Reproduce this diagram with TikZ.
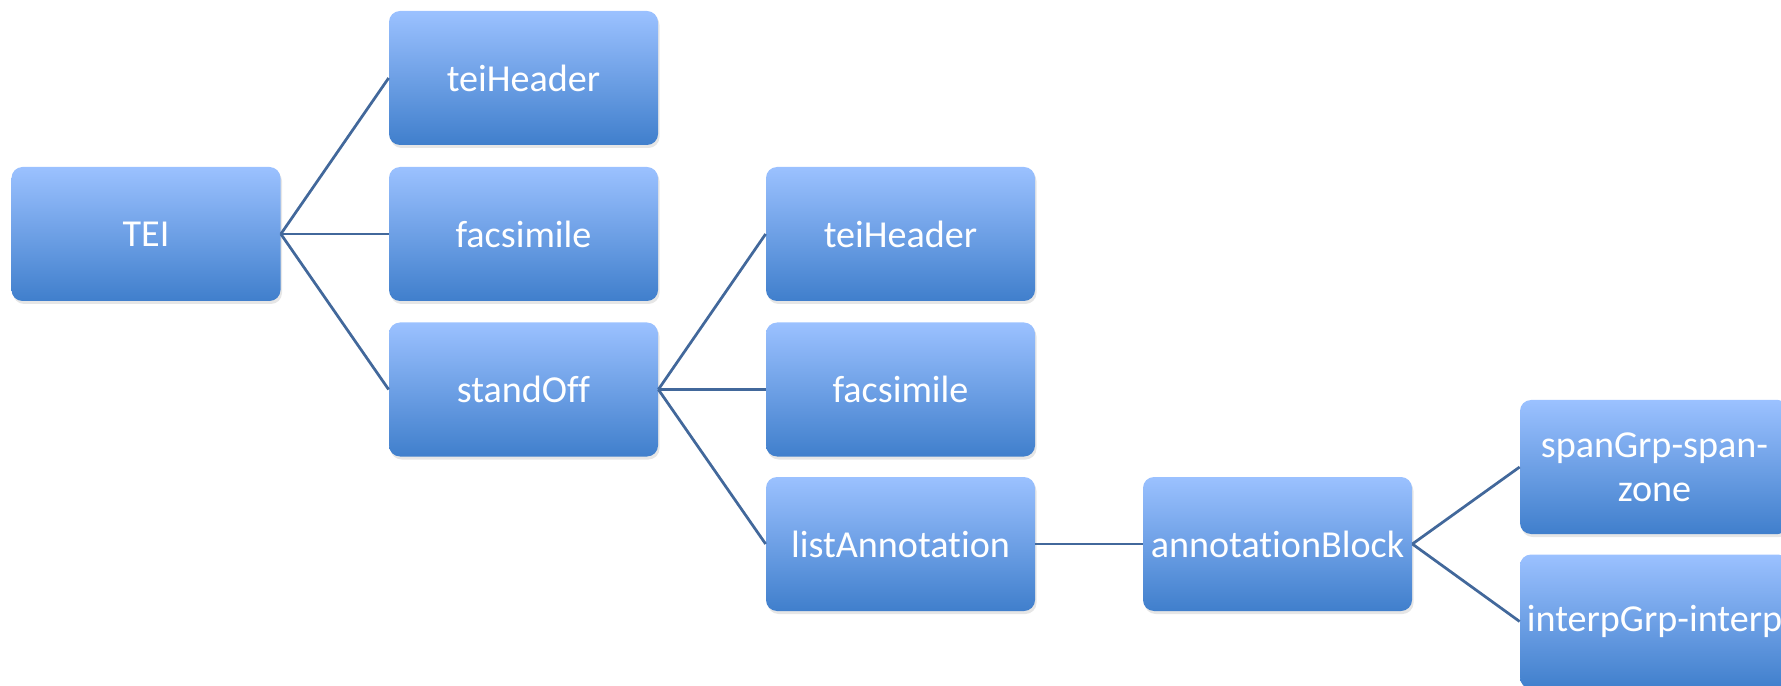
\documentclass[tikz,border=0pt]{standalone}
\usepackage{fontspec}
\setmainfont{Carlito}[Ligatures=NoCommon]
\usetikzlibrary{shadows}
\definecolor{boxtop}{RGB}{155,193,255}
\definecolor{boxbot}{RGB}{64,127,204}
\definecolor{edgeblue}{RGB}{66,104,155}
\def\elem{\node[elem]}
\def\link{\draw[link]}

\begin{document}
\begin{tikzpicture}[
    elem/.style={rounded corners=0.22cm, minimum width=5.38cm, minimum height=2.68cm,
        top color=boxtop, bottom color=boxbot, text=white, inner sep=0pt, align=center,
        font=\fontsize{21.7}{25}\selectfont,
        drop shadow={opacity=0.2, shadow xshift=0.03cm, shadow yshift=-0.06cm}},
    link/.style={edgeblue, line width=0.055cm}]
                \useasboundingbox (0,0) rectangle (35.62,-13.72);
                \elem (tei) at (2.92,-4.68) {TEI};
                \elem (hdr) at (10.47,-1.56) {teiHeader};
                \elem (fac) at (10.47,-4.68) {facsimile};
                \elem (so) at (10.47,-7.79) {standOff};
                \elem (sohdr) at (18.01,-4.68) {teiHeader};
                \elem (sofac) at (18.01,-7.79) {facsimile};
                \elem (la) at (18.01,-10.88) {listAnnotation};
                \elem (ab) at (25.55,-10.88) {annotationBlock};
                \elem (span) at (33.09,-9.34) {spanGrp-span-\\zone};
                \elem (interp) at (33.09,-12.43) {interpGrp-interp};
                \link (tei.east) -- (hdr.west);
                \link (tei.east) -- (fac.west);
                \link (tei.east) -- (so.west);
                \link (so.east) -- (sohdr.west);
                \link (so.east) -- (sofac.west);
                \link (so.east) -- (la.west);
                \link (la.east) -- (ab.west);
                \link (ab.east) -- (span.west);
                \link (ab.east) -- (interp.west);
            \end{tikzpicture}
\end{document}
